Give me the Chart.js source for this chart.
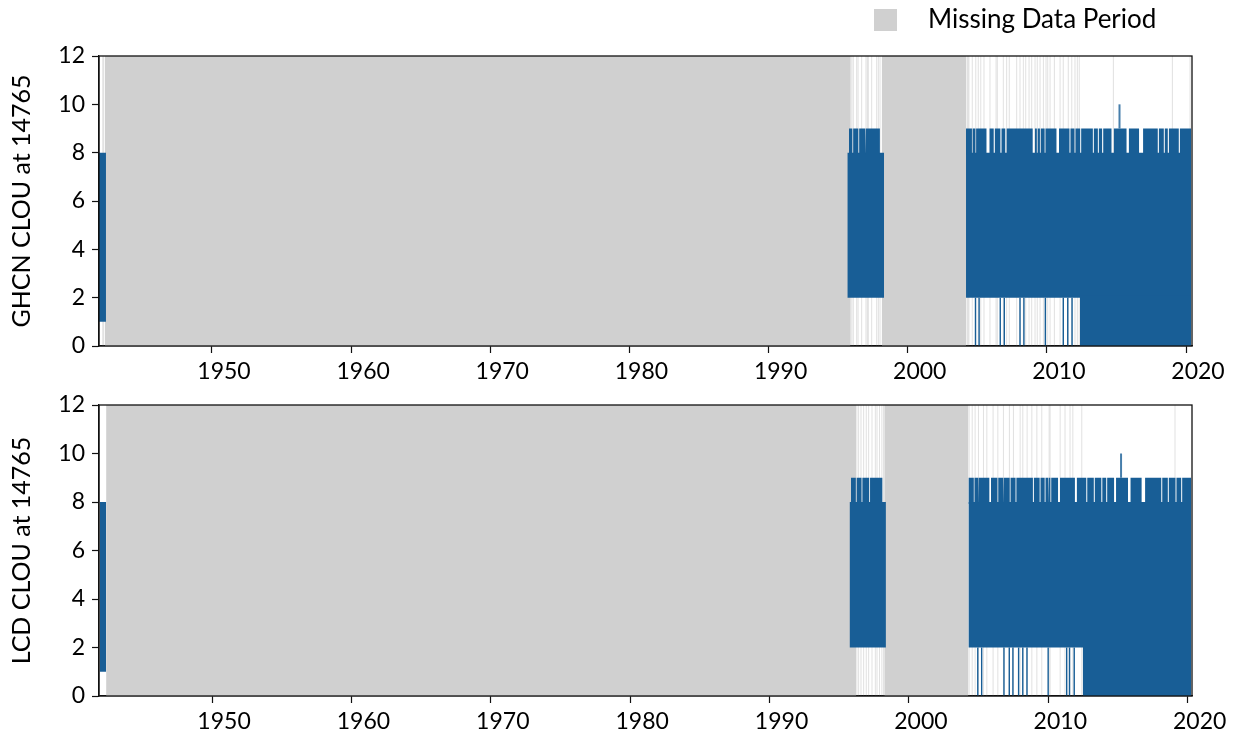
<!DOCTYPE html>
<html>
<head>
<meta charset="utf-8">
<script src="https://cdn.jsdelivr.net/npm/chart.js@4.4.0/dist/chart.umd.min.js"></script>
<style>
  body { margin: 0; background: #fff; }
  #wrap { position: relative; width: 1243px; height: 738px; font-family: Lato, sans-serif; }
  #chart-top { position: absolute; left: 0; top: 0; }
  #chart-bottom { position: absolute; left: 0; top: 390px; }
  .legend-box { position: absolute; left: 874px; top: 9px; width: 23px; height: 22px; background: #d0d0d0; }
  .legend-text { position: absolute; left: 928px; top: 3px; font-size: 26px; line-height: 1.2; color: #000; }
</style>
</head>
<body>
<div id="wrap">
  <canvas id="chart-top" width="1243" height="390"></canvas>
  <canvas id="chart-bottom" width="1243" height="348"></canvas>
  <div class="legend-box"></div>
  <div class="legend-text">Missing Data Period</div>
</div>
<script>
// axis ticks
const xTickYears = [1950, 1960, 1970, 1980, 1990, 2000, 2010, 2020];
const yTickValues = [0, 2, 4, 6, 8, 10, 12];

// GHCN panel (top)
const ghcnYearRange = [1941.88, 2020.43];
const ghcnMissingSpans = [[1942.30, 1995.88], [1998.13, 2004.19]];
const ghcnMissingDays = [1942.15, 1942.22,
  1995.90, 1995.99, 1996.09, 1996.33, 1996.43, 1996.69, 1997.00, 1997.10, 1997.17, 1997.41, 1997.77, 1997.89, 1998.01,
  2004.26, 2004.33, 2004.40, 2004.64, 2004.89, 2005.07, 2005.25, 2005.48, 2005.91, 2006.35, 2006.44, 2006.87,
  2007.11, 2007.30, 2007.83, 2008.07, 2008.31, 2008.48, 2008.72, 2008.91, 2009.15, 2009.31, 2009.51, 2009.75,
  2009.94, 2010.06, 2010.23, 2010.54, 2010.95, 2011.18, 2011.54, 2011.79, 2012.02, 2012.19, 2012.33,
  2014.78, 2019.02, 2020.29];
const ghcnBlocks = [[1941.88, 1942.38], [1995.66, 1998.30], [2004.19, 2020.36]];
const ghcnBlockLow = [1, 2, 2];
const ghcnBlockHigh = [8, 8, 8];
const ghcnNineSpans = [[1995.78, 1998.00], [2004.19, 2020.36]];
const ghcnNineNotches = [[1996.05, 0.06], [1996.48, 0.06], [1996.96, 0.06],
  [2004.64, 0.05], [2004.89, 0.05], [2005.77, 0.22], [2006.22, 0.08], [2006.70, 0.08], [2007.06, 0.10],
  [2009.06, 0.16], [2009.31, 0.06], [2009.53, 0.06], [2009.87, 0.06], [2010.78, 0.18], [2011.66, 0.07],
  [2012.02, 0.07], [2012.43, 0.07], [2013.34, 0.07], [2013.70, 0.07], [2014.01, 0.08], [2014.73, 0.17],
  [2015.81, 0.17], [2016.77, 0.29], [2018.01, 0.08], [2018.44, 0.07], [2018.73, 0.08], [2019.52, 0.08]];
const ghcnZeroSpan = [2012.38, 2020.36];
const ghcnDips = [2004.87, 2005.13, 2006.65, 2006.94, 2008.07, 2008.35, 2009.89, 2011.18, 2011.50, 2011.81];
const ghcnSpike = [2015.22, 10];

// LCD panel (bottom)
const lcdYearRange = [1941.89, 2020.31];
const lcdMissingSpans = [[1942.40, 1996.22], [1998.23, 2004.27]];
const lcdMissingDays = [1941.92,
  1996.27, 1996.39, 1996.56, 1996.75, 1996.94, 1997.11, 1997.35, 1997.59, 1997.71, 1997.89, 1998.06, 1998.18,
  2004.32, 2004.54, 2004.75, 2004.99, 2005.35, 2005.59, 2006.04, 2006.38, 2006.78, 2007.21, 2007.50, 2007.98,
  2008.17, 2008.48, 2008.82, 2009.18, 2009.53, 2010.06, 2010.13, 2010.85, 2011.20, 2011.56, 2011.76, 2012.40,
  2019.09];
const lcdBlocks = [[1941.95, 1942.40], [1995.74, 1998.35], [2004.27, 2020.25]];
const lcdBlockLow = [1, 2, 2];
const lcdBlockHigh = [8, 8, 8];
const lcdNineSpans = [[1995.84, 1998.11], [2004.27, 2020.25]];
const lcdNineNotches = [[1996.22, 0.06], [1996.63, 0.06], [1997.18, 0.06],
  [2004.68, 0.05], [2004.99, 0.05], [2005.83, 0.12], [2006.38, 0.06], [2006.78, 0.06], [2007.26, 0.06],
  [2007.68, 0.06], [2008.93, 0.07], [2009.41, 0.06], [2009.77, 0.06], [2010.01, 0.06], [2010.18, 0.06],
  [2010.77, 0.14], [2011.98, 0.14], [2012.76, 0.07], [2013.30, 0.07], [2013.84, 0.07], [2014.19, 0.07],
  [2014.79, 0.14], [2015.81, 0.18], [2016.82, 0.25], [2018.14, 0.07], [2018.61, 0.07], [2019.16, 0.07],
  [2019.57, 0.07]];
const lcdZeroSpan = [2012.47, 2020.25];
const lcdDips = [2004.94, 2005.22, 2006.82, 2007.20, 2007.46, 2007.87, 2008.17, 2008.47, 2009.99, 2011.32, 2011.52, 2011.86];
const lcdSpike = [2015.22, 10];

const blue = "#185e96";
const gray = "#d0d0d0";
const none = "rgba(0,0,0,0)";
const seam = 0.08; // small overlap so stacked fills don't leave a hairline

// helpers turning spans / day lists into line points
function spanPoints(spans, y) {
  const pts = [];
  spans.forEach((s) => {
    pts.push({ x: s[0], y: y }, { x: s[1], y: y }, { x: s[1], y: null });
  });
  return pts;
}

function vlinePoints(xs, y0, y1) {
  const pts = [];
  xs.forEach((x) => {
    pts.push({ x: x, y: y0 }, { x: x, y: y1 }, { x: x, y: null });
  });
  return pts;
}

function ninePoints(spans, notches) {
  const pts = [];
  spans.forEach((s) => {
    pts.push({ x: s[0], y: 9 });
    notches.forEach((n) => {
      if (n[0] > s[0] && n[0] < s[1]) {
        const a = n[0] - n[1] / 2;
        const b = n[0] + n[1] / 2;
        pts.push({ x: a, y: 9 }, { x: a, y: 8 - seam }, { x: b, y: 8 - seam }, { x: b, y: 9 });
      }
    });
    pts.push({ x: s[1], y: 9 }, { x: s[1], y: null });
  });
  return pts;
}

function buildDatasets(p) {
  const sets = [];
  sets.push({ data: vlinePoints([p.spike[0]], 9, p.spike[1]), borderColor: "rgba(24,94,150,0.8)", borderWidth: 2, order: 0 });
  sets.push({ data: vlinePoints(p.dips, 0, 2), borderColor: blue, borderWidth: 1.4, order: 1 });
  sets.push({ data: spanPoints([p.zeroSpan], 0), borderColor: none, backgroundColor: blue, fill: { value: 2 + seam }, order: 2 });
  sets.push({ data: ninePoints(p.nineSpans, p.notches), borderColor: none, backgroundColor: blue, fill: { value: 8 - seam }, order: 3 });
  p.blocks.forEach((b, i) => {
    sets.push({ data: spanPoints([b], p.high[i]), borderColor: none, backgroundColor: blue, fill: { value: p.low[i] }, order: 4 });
  });
  sets.push({ data: vlinePoints(p.missingDays, 0, 12), borderColor: "rgba(170,170,170,0.35)", borderWidth: 1, order: 5 });
  sets.push({ data: spanPoints(p.missingSpans, 12), borderColor: none, backgroundColor: gray, fill: { value: 0 }, order: 6 });
  return sets;
}

// box round the plot area
const frame = {
  id: "frame",
  afterDatasetsDraw(chart) {
    const a = chart.chartArea;
    const ctx = chart.ctx;
    ctx.save();
    ctx.strokeStyle = "#111";
    ctx.lineWidth = 1.3;
    ctx.strokeRect(a.left, a.top, a.right - a.left, a.bottom - a.top);
    ctx.restore();
  },
};

function makeChart(id, p, label, padTop, xHeight) {
  const ctx = document.getElementById(id).getContext("2d");
  return new Chart(ctx, {
    type: "line",
    data: { datasets: buildDatasets(p) },
    options: {
      responsive: false,
      animation: false,
      events: [],
      spanGaps: false,
      elements: { point: { radius: 0 }, line: { tension: 0 } },
      layout: { padding: { top: padTop, right: 51, left: 0, bottom: 0 } },
      plugins: { legend: { display: false }, tooltip: { enabled: false } },
      scales: {
        x: {
          type: "linear",
          min: p.range[0],
          max: p.range[1],
          afterBuildTicks: (s) => { s.ticks = xTickYears.map((v) => ({ value: v })); },
          afterFit: (s) => { s.height = xHeight; s.paddingLeft = 0; s.paddingRight = 0; },
          ticks: { color: "#000", font: { family: "Lato", size: 23 }, padding: 5, labelOffset: 12, maxRotation: 0, callback: (v) => String(v) },
          grid: { drawOnChartArea: false, tickLength: 7, tickColor: "#111", tickWidth: 1.2 },
          border: { color: "#111", width: 1.3 },
        },
        y: {
          min: 0,
          max: 12,
          afterBuildTicks: (s) => { s.ticks = yTickValues.map((v) => ({ value: v })); },
          afterFit: (s) => { s.width = 99; s.paddingTop = 0; s.paddingBottom = 0; },
          ticks: { color: "#000", font: { family: "Lato", size: 23 }, padding: 7, callback: (v) => String(v) },
          grid: { drawOnChartArea: false, tickLength: 7, tickColor: "#111", tickWidth: 1.2 },
          border: { color: "#111", width: 1.3 },
          title: { display: true, text: label, color: "#000", font: { family: "Lato", size: 25 }, padding: { top: 7, bottom: 0 } },
        },
      },
    },
    plugins: [frame],
  });
}

const ghcn = {
  range: ghcnYearRange, missingSpans: ghcnMissingSpans, missingDays: ghcnMissingDays,
  blocks: ghcnBlocks, low: ghcnBlockLow, high: ghcnBlockHigh, nineSpans: ghcnNineSpans,
  notches: ghcnNineNotches, zeroSpan: ghcnZeroSpan, dips: ghcnDips, spike: ghcnSpike,
};
const lcd = {
  range: lcdYearRange, missingSpans: lcdMissingSpans, missingDays: lcdMissingDays,
  blocks: lcdBlocks, low: lcdBlockLow, high: lcdBlockHigh, nineSpans: lcdNineSpans,
  notches: lcdNineNotches, zeroSpan: lcdZeroSpan, dips: lcdDips, spike: lcdSpike,
};

makeChart("chart-top", ghcn, "GHCN CLOU at 14765", 56, 44);
makeChart("chart-bottom", lcd, "LCD CLOU at 14765", 15, 42);
</script>
</body>
</html>
